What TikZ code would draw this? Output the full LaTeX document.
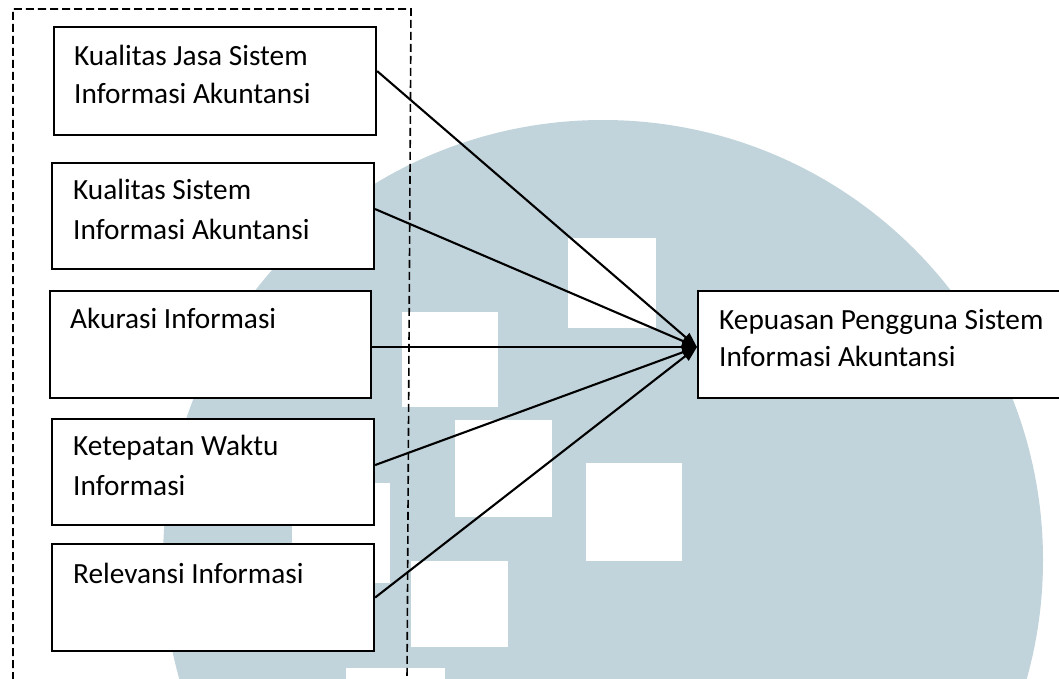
\documentclass[tikz,border=0pt]{standalone}
\usepackage{fontspec}
\setmainfont{Carlito}
\usetikzlibrary{arrows.meta}
\definecolor{wm}{RGB}{194,212,219}
\begin{document}
\begin{tikzpicture}[x=1pt,y=-1pt,
  box/.style={draw=black,line width=2.1pt,fill=white,rectangle,anchor=north west,inner sep=0pt},
  txt/.style={anchor=base west,inner sep=0pt,font=\fontsize{29.3}{38}\selectfont},
  conn/.style={line width=2.1pt,-{Triangle[length=15pt,width=11pt]}},
  frame/.style={line width=1.6pt,dash pattern=on 8pt off 4pt},
  wsq/.style={fill=white,draw=none}]
\useasboundingbox (0,0) rectangle (1059,679);
% watermark
\begin{scope}
\clip (0,0) rectangle (1059,679);
\fill[wm] (603,560) circle[radius=440];
\fill[wsq] (568,238) rectangle (656,328);
\fill[wsq] (402,312) rectangle (498,407);
\fill[wsq] (455,420) rectangle (552,517);
\fill[wsq] (586,463) rectangle (682,561);
\fill[wsq] (411,561) rectangle (508,647);
\fill[wsq] (292,483) rectangle (390,583);
\fill[wsq] (346,668) rectangle (445,690);
\end{scope}
% dashed frame
\draw[frame] (13,680) -- (13,9) -- (411,9) -- (407,680);
% boxes
\node[box,minimum width=322pt,minimum height=108pt] (b1) at (53,26) {};
\node[box,minimum width=322pt,minimum height=106pt] (b2) at (51,162) {};
\node[box,minimum width=321pt,minimum height=107pt] (b3) at (49,290) {};
\node[box,minimum width=322pt,minimum height=106pt] (b4) at (51,418) {};
\node[box,minimum width=322pt,minimum height=107pt] (b5) at (51,543) {};
\node[box,minimum width=366pt,minimum height=107pt] (tg) at (697,290) {};
% texts
\node[txt] (t1a) at (74,66) {Kualitas Jasa Sistem};
\node[txt] (t1b) at (74,104) {Informasi Akuntansi};
\node[txt] (t2a) at (73,200) {Kualitas Sistem};
\node[txt] (t2b) at (73,239) {Informasi Akuntansi};
\node[txt] (t3a) at (70,328) {Akurasi Informasi};
\node[txt] (t4a) at (73,455) {Ketepatan Waktu};
\node[txt] (t4b) at (73,495) {Informasi};
\node[txt] (t5a) at (73,583) {Relevansi Informasi};
\node[txt] (tga) at (719,329) {Kepuasan Pengguna Sistem};
\node[txt] (tgb) at (719,366) {Informasi Akuntansi};
% connectors
\coordinate (tip) at ([yshift=-2.5pt]tg.west);
\draw[conn] ([yshift=10pt]b1.east) -- (tip);
\draw[conn] ([yshift=7pt]b2.east) -- (tip);
\draw[conn] ([yshift=-2.5pt]b3.east) -- (tip);
\draw[conn] ([yshift=7pt]b4.east) -- (tip);
\draw[conn] (b5.east) -- (tip);
\end{tikzpicture}
\end{document}
